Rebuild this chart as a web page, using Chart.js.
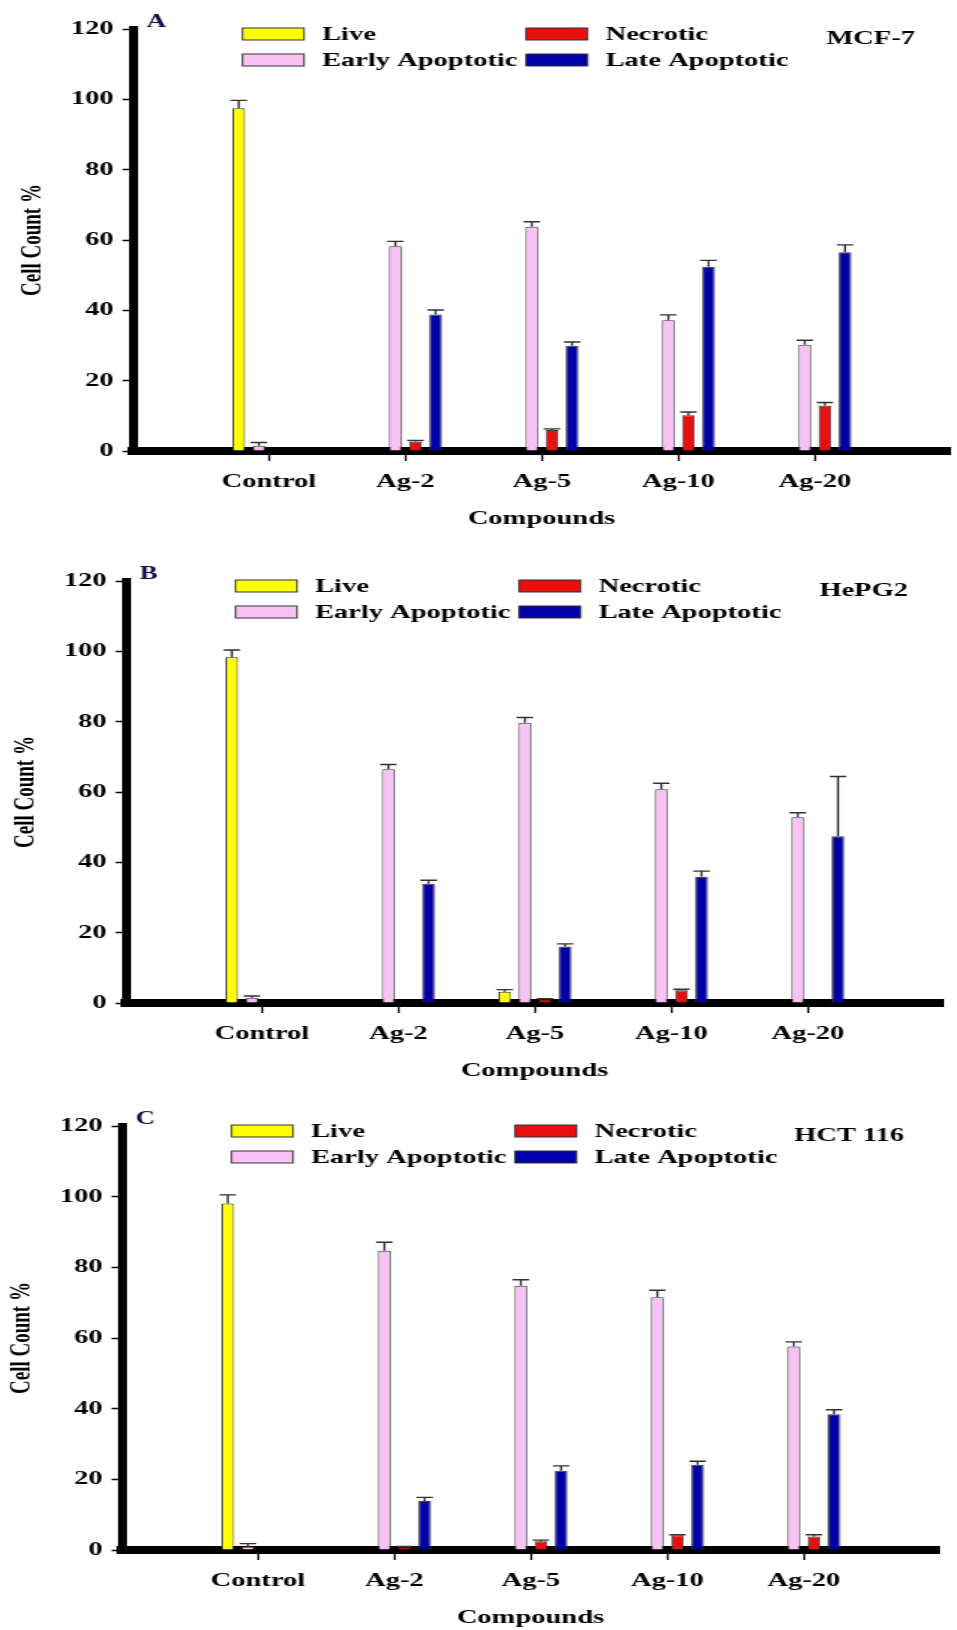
<!DOCTYPE html>
<html>
<head>
<meta charset="utf-8">
<script src="https://cdn.jsdelivr.net/npm/chart.js@4.4.1/dist/chart.umd.min.js"></script>
<style>
  body { margin: 0; background: #fff; width: 957px; height: 1630px; overflow: hidden; }
  canvas { display: block; }
</style>
</head>
<body>
<!-- the original figure is stretched sideways, so each canvas is drawn narrow and widened by css -->
<canvas id="chartA" width="638" height="552" style="width:957px;height:552px"></canvas>
<canvas id="chartB" width="638" height="545" style="width:957px;height:545px;margin-left:-7px"></canvas>
<canvas id="chartC" width="638" height="533" style="width:957px;height:533px;margin-left:-11px"></canvas>
<script>
const categories = ["Control", "Ag-2", "Ag-5", "Ag-10", "Ag-20"];
const seriesNames = ["Live", "Early Apoptotic", "Necrotic", "Late Apoptotic"];

// A - MCF-7
const mcfLive = [97.5, 0, 0, 0, 0];
const mcfLiveErr = [2.2, 0, 0, 0, 0];
const mcfEarly = [1.5, 58.2, 63.8, 37.2, 30.2];
const mcfEarlyErr = [0.9, 1.4, 1.4, 1.5, 1.3];
const mcfNecrotic = [0, 2.6, 6.0, 10.2, 12.9];
const mcfNecroticErr = [0, 0.4, 0.3, 0.9, 0.9];
const mcfLate = [0, 38.8, 29.9, 52.4, 56.5];
const mcfLateErr = [0, 1.3, 1.1, 1.8, 2.1];

// B - HePG2
const hepLive = [98.3, 0, 3.2, 0, 0];
const hepLiveErr = [2.1, 0, 0.6, 0, 0];
const hepEarly = [1.5, 66.5, 79.7, 60.8, 52.8];
const hepEarlyErr = [0.5, 1.3, 1.5, 1.7, 1.3];
const hepNecrotic = [0, 0, 1.0, 3.6, 0];
const hepNecroticErr = [0, 0, 0.2, 0.3, 0];
const hepLate = [0, 33.9, 16.1, 35.9, 47.4];
const hepLateErr = [0, 1.0, 0.7, 1.6, 17.0];

// C - HCT 116
const hctLive = [98.1, 0, 0, 0, 0];
const hctLiveErr = [2.4, 0, 0, 0, 0];
const hctEarly = [1.0, 84.7, 74.8, 71.5, 57.6];
const hctEarlyErr = [0.8, 2.4, 1.7, 2.0, 1.3];
const hctNecrotic = [0, 0.8, 2.5, 4.2, 3.8];
const hctNecroticErr = [0, 0.2, 0.3, 0.1, 0.5];
const hctLate = [0, 13.9, 22.4, 24.1, 38.4];
const hctLateErr = [0, 1.0, 1.4, 1.0, 1.3];

const fills = ["#ffff00", "#f9c2f4", "#e8100c", "#0000a6"];
const serif = '"Liberation Serif", "Times New Roman", serif';

Chart.defaults.font.family = serif;
Chart.defaults.font.weight = "bold";
Chart.defaults.color = "#000";

//! error bars, 2x2 legend, panel letter and cell line name
const decor = {
  id: "decor",
  afterDatasetsDraw(chart) {
    const ctx = chart.ctx;
    const y = chart.scales.y;
    ctx.save();
    ctx.strokeStyle = "#333";
    ctx.lineWidth = 1.4;
    chart.data.datasets.forEach((ds, i) => {
      chart.getDatasetMeta(i).data.forEach((bar, j) => {
        const err = ds.errors[j];
        if (!err) return;
        const top = y.getPixelForValue(ds.data[j].y + err);
        const cap = bar.width * 0.65;
        ctx.beginPath();
        ctx.moveTo(bar.x, bar.y);
        ctx.lineTo(bar.x, top);
        ctx.moveTo(bar.x - cap, top);
        ctx.lineTo(bar.x + cap, top);
        ctx.stroke();
      });
    });
    ctx.restore();
  },
  afterDraw(chart, args, opts) {
    const ctx = chart.ctx;
    const area = chart.chartArea;
    ctx.save();
    ctx.font = "bold 19px " + serif;
    ctx.textBaseline = "middle";
    chart.data.datasets.forEach((ds, i) => {
      const col = Math.floor(i / 2);
      const row = i % 2;
      const x = area.left + 73 + col * 189;
      const yc = area.top + 5 + row * 26;
      ctx.fillStyle = ds.backgroundColor;
      ctx.fillRect(x, yc - 6, 41, 12);
      ctx.strokeStyle = "#333";
      ctx.lineWidth = 1;
      ctx.strokeRect(x, yc - 6, 41, 12);
      ctx.fillStyle = "#000";
      ctx.textAlign = "left";
      ctx.fillText(ds.label, x + 53, yc + 1);
    });
    ctx.font = "bold 18px " + serif;
    ctx.fillStyle = "#10104a";
    ctx.fillText(opts.letter, area.left + 9, area.top - 7);
    ctx.font = "bold 19px " + serif;
    ctx.fillStyle = "#000";
    ctx.textAlign = "right";
    ctx.fillText(opts.cellLine, 610, area.top + 10);
    ctx.restore();
  },
};

function makeChart(id, letter, cellLine, values, errors, padBottom) {
  return new Chart(document.getElementById(id), {
    type: "bar",
    data: {
      datasets: seriesNames.map((name, i) => ({
        label: name,
        data: values[i].map((v, j) => ({ x: j, y: v })),
        errors: errors[i],
        backgroundColor: fills[i],
        borderColor: "#3a3a3a",
        borderWidth: 1,
        categoryPercentage: 0.59,
        barPercentage: 0.63,
      })),
    },
    plugins: [decor],
    options: {
      responsive: false,
      animation: false,
      layout: { padding: { left: 5, right: 4.7, top: 29, bottom: padBottom } },
      scales: {
        x: {
          type: "linear",
          min: -0.996,
          max: 4.99,
          offset: false,
          z: 1,
          afterBuildTicks: (scale) => {
            scale.ticks = categories.map((c, i) => ({ value: i }));
          },
          ticks: {
            callback: (v) => categories[v],
            font: { size: 19, weight: "bold" },
            padding: 10,
            maxRotation: 0,
            autoSkip: false,
          },
          grid: {
            offset: false,
            drawOnChartArea: false,
            drawTicks: true,
            tickLength: 10,
            tickColor: "#000",
            tickWidth: 1.3,
          },
          border: { display: true, color: "#000", width: 8 },
          title: {
            display: true,
            text: "Compounds",
            font: { size: 19, weight: "bold" },
            padding: { top: 4, bottom: 0 },
          },
        },
        y: {
          min: 0,
          max: 120,
          z: 1,
          afterFit: (scale) => {
            scale.width = 83.7;
          },
          ticks: {
            stepSize: 20,
            font: { size: 19, weight: "bold" },
            padding: 6,
          },
          grid: {
            drawOnChartArea: false,
            drawTicks: true,
            tickLength: 7,
            tickColor: "#000",
            tickWidth: 1.5,
          },
          border: { display: true, color: "#000", width: 6 },
          title: {
            display: true,
            text: "Cell Count %",
            font: { size: 19, weight: "bold" },
            padding: { top: 6, bottom: 4 },
          },
        },
      },
      plugins: {
        legend: { display: false },
        tooltip: { enabled: false },
        decor: { letter: letter, cellLine: cellLine },
      },
    },
  });
}

makeChart("chartA", "A", "MCF-7",
  [mcfLive, mcfEarly, mcfNecrotic, mcfLate],
  [mcfLiveErr, mcfEarlyErr, mcfNecroticErr, mcfLateErr], 21.4);
makeChart("chartB", "B", "HePG2",
  [hepLive, hepEarly, hepNecrotic, hepLate],
  [hepLiveErr, hepEarlyErr, hepNecroticErr, hepLateErr], 14.4);
makeChart("chartC", "C", "HCT 116",
  [hctLive, hctEarly, hctNecrotic, hctLate],
  [hctLiveErr, hctEarlyErr, hctNecroticErr, hctLateErr], 0.4);
</script>
</body>
</html>
